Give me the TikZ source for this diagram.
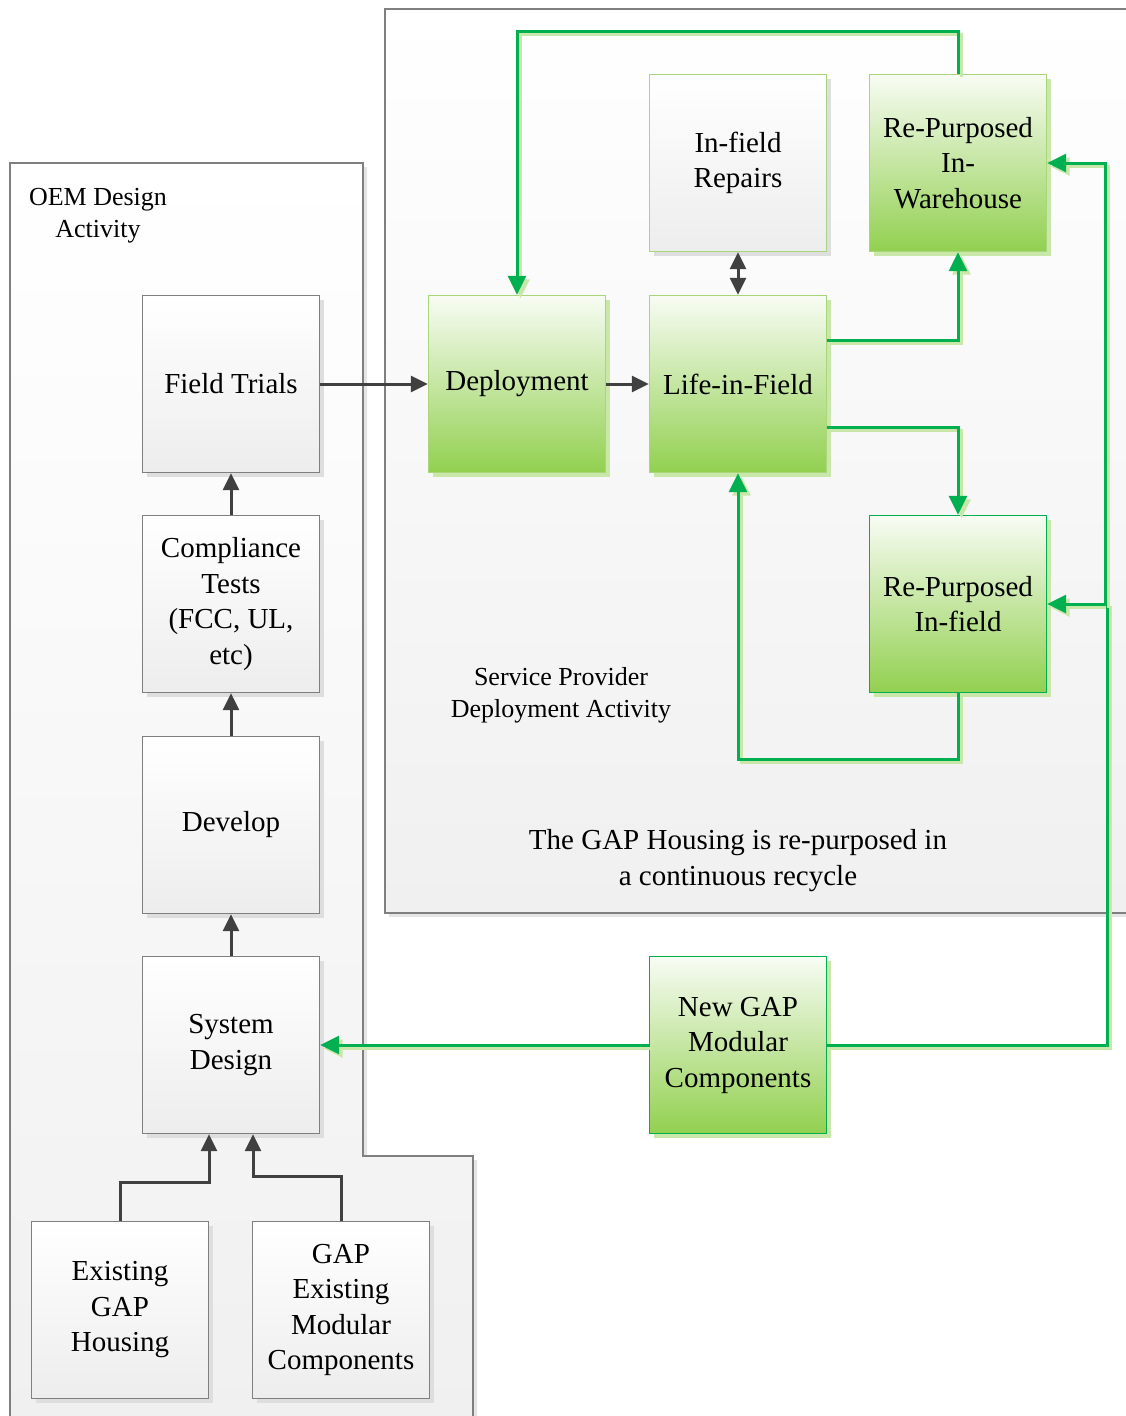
\documentclass[tikz,border=0pt]{standalone}
\usepackage{fontspec}
\setmainfont{Liberation Serif}
\usetikzlibrary{arrows.meta,shadows}
\definecolor{boxgray}{HTML}{7F7F7F}
\definecolor{darkline}{HTML}{404040}
\definecolor{linegreen}{HTML}{00B050}
\definecolor{lightgreen}{HTML}{A9D67A}
\definecolor{paleshadow}{HTML}{C9E7A8}
\definecolor{greenbot}{HTML}{92D050}
\definecolor{greentop}{HTML}{F8FCF4}
\definecolor{graybot}{HTML}{EDEDED}
\definecolor{contbot}{HTML}{F0F0F0}
\tikzset{
  boxbase/.style={minimum width=177pt, minimum height=177pt, inner sep=2pt, align=center,
    font=\fontsize{29}{35.5}\selectfont, line width=1.4pt},
  graybox/.style={boxbase, draw=boxgray, top color=white, bottom color=graybot,
    general shadow={shadow xshift=4pt, shadow yshift=-4pt, fill=black!13}},
  greenbox/.style={boxbase, draw=lightgreen, top color=greentop, bottom color=greenbot,
    general shadow={shadow xshift=4pt, shadow yshift=-4pt, fill=paleshadow}},
  greenboxdark/.style={greenbox, draw=linegreen},
  repbox/.style={boxbase, draw=lightgreen, top color=white, bottom color=graybot,
    general shadow={shadow xshift=4pt, shadow yshift=-4pt, fill=black!13}},
  container/.style={draw=boxgray, line width=1.3pt, top color=white, bottom color=contbot},
  grayarrow/.style={draw=darkline, line width=3pt, -{Triangle[length=17pt,width=16pt]}},
  grayline/.style={draw=darkline, line width=3pt},
  greenarrow/.style={draw=linegreen, line width=3pt, -{Triangle[length=19pt,width=18pt]},
    preaction={draw=paleshadow, line width=3pt, transform canvas={xshift=3.5pt,yshift=-3.5pt}}},
  lbl/.style={align=center, inner sep=0pt}
}
\begin{document}
\begin{tikzpicture}[x=1pt,y=-1pt]
\useasboundingbox (0,0) rectangle (1126,1416);
% containers
\fill[black!10] (14,167) -- (367,167) -- (367,1160) -- (477,1160) -- (477,1430) -- (14,1430) -- cycle;
\path[container] (10,163) -- (363,163) -- (363,1156) -- (473,1156) -- (473,1430) -- (10,1430) -- cycle;
\fill[black!10] (389,13) rectangle (1140,917);
\path[container] (385,9) rectangle (1140,913);

\node[lbl, font=\fontsize{26}{32}\selectfont] (oem) at (98,216) {OEM Design\\Activity};
\node[lbl, font=\fontsize{26}{32}\selectfont] (sp) at (561,695) {Service Provider\\Deployment Activity};
\node[lbl, font=\fontsize{29}{36}\selectfont] (gh) at (738,861) {The GAP Housing is re-purposed in\\a continuous recycle};

% coordinates for connectors
\coordinate (t1) at (517,31);
\coordinate (b1) at (958,759);
\coordinate (r1) at (1107,604);
\coordinate (r2) at (1105,604);

% boxes
\node[graybox] (ft) at (231,384) {Field Trials};
\node[graybox] (ct) at (231,604) {Compliance\\Tests\\(FCC, UL,\\etc)};
\node[graybox] (dev) at (231,825) {Develop};
\node[graybox] (sys) at (231,1045) {System\\Design};
\node[graybox] (egh) at (120,1310) {Existing\\GAP\\Housing};
\node[graybox] (gem) at (341,1310) {GAP\\Existing\\Modular\\Components};
\node[greenbox] (dep) at (517,384) {Deployment};
\node[greenbox] (life) at (738,384) {Life-in-Field};
\node[repbox] (rep) at (738,163) {In-field\\Repairs};
\node[greenbox] (wh) at (958,163) {Re-Purposed\\In-\\Warehouse};
\node[greenboxdark] (rpf) at (958,604) {Re-Purposed\\In-field};
\node[greenboxdark] (new) at (738,1045) {New GAP\\Modular\\Components};

% gray connectors
\draw[grayarrow] (ft.east) -- (dep.west);
\draw[grayarrow] (dep.east) -- (life.west);
\draw[grayline, {Triangle[length=17pt,width=16pt]}-{Triangle[length=17pt,width=16pt]}] (rep.south) -- (life.north);
\draw[grayarrow] (ct.north) -- (ft.south);
\draw[grayarrow] (dev.north) -- (ct.south);
\draw[grayarrow] (sys.north) -- (dev.south);
\draw[grayarrow] (egh.north) -- ++(0,-38) -| ([xshift=-22pt]sys.south);
\draw[grayarrow] (gem.north) -- ++(0,-44) -| ([xshift=22pt]sys.south);

% green connectors
\draw[greenarrow] (wh.north) |- (t1) -- (dep.north);
\draw[greenarrow] ([yshift=44pt]life.east) -| (wh.south);
\draw[greenarrow] ([yshift=-43pt]life.east) -| (rpf.north);
\draw[greenarrow] (rpf.south) -- (b1) -| (life.south);
\draw[greenarrow] (new.east) -| (r1) -- (rpf.east);
\draw[greenarrow] (r2) |- (wh.east);
\draw[greenarrow] (new.west) -- (sys.east);
\end{tikzpicture}
\end{document}
